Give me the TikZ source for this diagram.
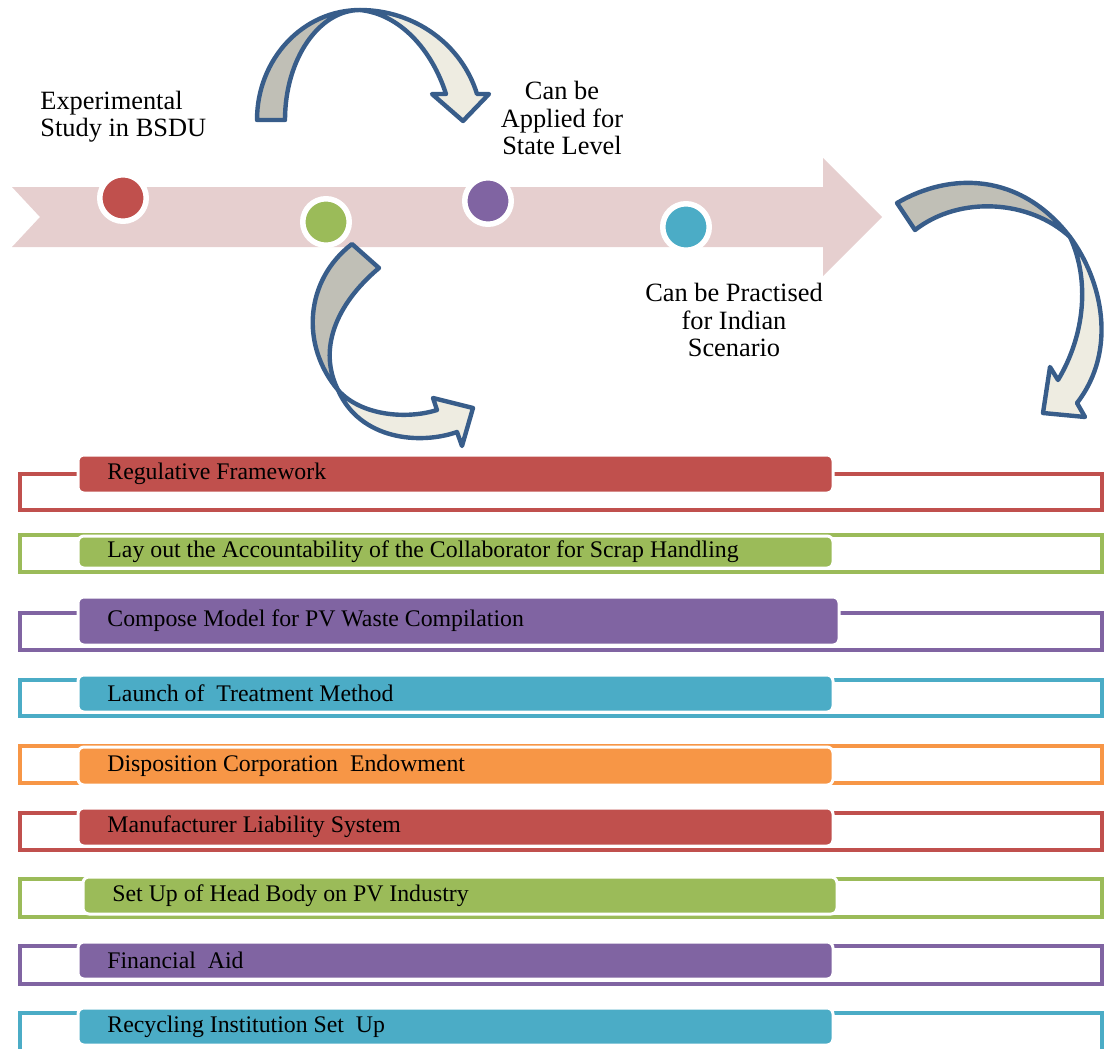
\documentclass[tikz,border=0pt]{standalone}
\usepackage{fontspec}
\setmainfont{Liberation Serif}

\definecolor{rougeb}{HTML}{C0504D}
\definecolor{vertb}{HTML}{9BBB59}
\definecolor{violetb}{HTML}{8064A2}
\definecolor{turq}{HTML}{4BACC6}
\definecolor{orangeb}{HTML}{F79646}
\definecolor{rose}{HTML}{E6CFCF}
\definecolor{bleufleche}{HTML}{385D8A}
\definecolor{grisfonce}{HTML}{C0BFB6}
\definecolor{grisclair}{HTML}{EEECE1}

\tikzset{cadre/.style = {draw=#1, line width=2.25pt},
         tuile/.style = {fill=#1, draw=white, line width=1.5pt, rounded corners=3pt,
                         inner sep=0pt, outer sep=0pt, anchor=north west},
         pastille/.style = {circle, fill=#1, draw=white, line width=2.75pt,
                            minimum size=23.25pt, inner sep=0pt},
         fleche/.style = {draw=bleufleche, line width=2.2pt, line join=round},
         haut/.style = {font=\fontsize{13.2}{13.6}\selectfont, inner sep=0pt},
         etiq/.style = {font=\fontsize{11.9}{14}\selectfont, inner sep=0pt, anchor=west}
        }

\begin{document}
\begin{tikzpicture}[x=0.5pt, y=-0.5pt]
  \useasboundingbox (0,0) rectangle (1104,1049);
  \clip (0,0) rectangle (1104,1049);

  \fill[rose] (12,187) -- (823,187) -- (823,158) -- (882,217) -- (823,276)
    -- (823,247) -- (12,247) -- (40,217) -- cycle;

  \node[pastille=rougeb]  (p1) at (123,198) {};
  \node[pastille=vertb]   (p2) at (326,222) {};
  \node[pastille=violetb] (p3) at (488,201) {};
  \node[pastille=turq]    (p4) at (686,227) {};

  \filldraw[fleche, fill=grisfonce] (257,120) .. controls (257,59) and (303,10) .. (360,10)
    .. controls (319,10) and (285,59) .. (285,120) -- cycle;
  \filldraw[fleche, fill=grisclair] (360,10) .. controls (415,10) and (462,45) .. (477,94)
    -- (489,94) -- (463,121) -- (432,94) -- (446,94)
    .. controls (432,50) and (400,14) .. (360,10) -- cycle;

  \filldraw[fleche, fill=grisfonce] (352,244) -- (379,268)
    .. controls (335,305) and (318,350) .. (338,390)
    .. controls (300,345) and (305,280) .. (352,244) -- cycle;
  \filldraw[fleche, fill=grisclair] (338,390) .. controls (360,440) and (420,445) .. (457,432)
    -- (462,446) -- (473,408) -- (433,398) -- (437,410)
    .. controls (405,420) and (360,415) .. (338,390) -- cycle;

  \filldraw[fleche, fill=grisfonce] (897,203) .. controls (950,172) and (1020,172) .. (1070,237)
    .. controls (1030,200) and (960,195) .. (915,230) -- cycle;
  \filldraw[fleche, fill=grisclair] (1070,237) .. controls (1102,280) and (1118,350) .. (1077,403)
    -- (1085,417) -- (1043,413) -- (1050,367) -- (1058,380)
    .. controls (1085,335) and (1090,280) .. (1070,237) -- cycle;

  \node[haut, align=left, anchor=west] (l1) at (40,117) {Experimental\\Study in BSDU};
  \node[haut, align=center] (l3) at (562,118) {Can be\\Applied for\\State Level};
  \node[haut, align=center] (l4) at (734,320) {Can be Practised\\for Indian\\Scenario};

  \foreach \i/\col/\ya/\yb/\yc/\yd/\xa/\xb/\txt in {
      1/rougeb/474/510/455/493/78/833/Regulative Framework,
      2/vertb/535/572/536/568/78/833/Lay out the Accountability of the Collaborator for Scrap Handling,
      3/violetb/613/650/597/645/78/839/Compose Model for PV Waste Compilation,
      4/turq/680/716/675/712/78/833/Launch of~ Treatment Method,
      5/orangeb/746/783/747/785/78/833/Disposition Corporation~ Endowment,
      6/rougeb/813/850/808/846/78/833/Manufacturer Liability System,
      7/vertb/879/917/877/914/83/837/Set Up of Head Body on PV Industry,
      8/violetb/946/984/942/979/78/833/Financial~ Aid,
      9/turq/1013/1052/1008/1045/78/833/Recycling Institution Set~ Up}{
    \draw[cadre=\col] (20,\ya) rectangle (1102,\yb);
    \node[tuile=\col, minimum width={(\xb-\xa)*0.5pt}, minimum height={(\yd-\yc)*0.5pt}]
      (t\i) at (\xa,\yc) {};
    \node[etiq] (e\i) at ([xshift=14.5pt]t\i.west) {\txt};
  }
\end{tikzpicture}
\end{document}
